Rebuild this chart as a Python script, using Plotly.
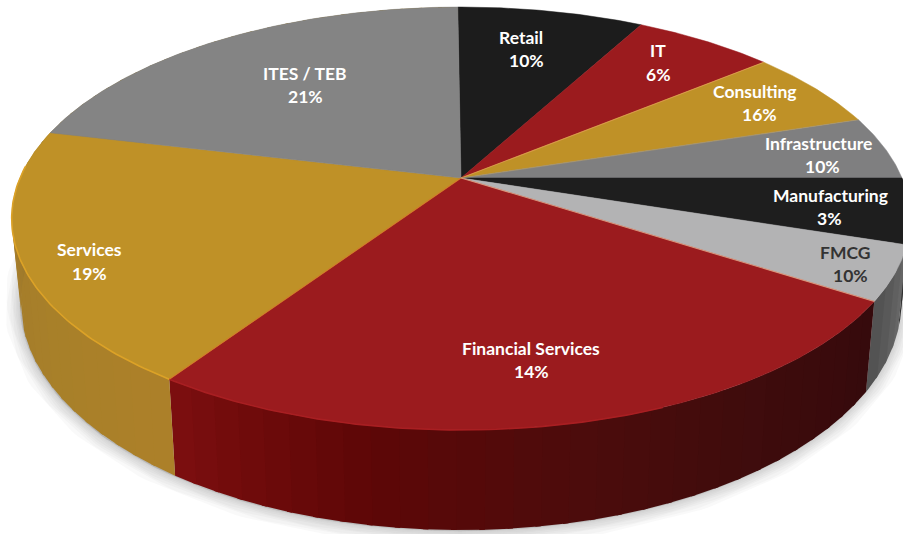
import numpy as np
import plotly.graph_objects as go

# ---- data ----
categories = ["Retail", "IT", "Consulting", "Infrastructure", "Manufacturing",
              "FMCG", "Financial Services", "Services", "ITES / TEB"]
printed_percent = [10, 6, 16, 10, 3, 10, 14, 19, 21]
# the drawn slices do not follow the printed numbers: drawn sweep of each slice, degrees
drawn_sweep = [29.0, 21.9, 22.0, 17.6, 18.0, 14.9, 90.9, 69.6, 76.1]

# ---- style ----
top_colors = ["#1c1c1c", "#9b1b1e", "#bf9127", "#7f7f80", "#1e1e1e",
              "#b3b3b4", "#9b1b1e", "#bf9127", "#848484"]
# side shade stops (start of slice -> end of slice)
side_stops = [None, None, None, None, ["#2a2a2a", "#333333"],
              ["#6a6a6a", "#505050"],
              ["#360a0c", "#3f0c0d", "#4d0c0c", "#5f0707", "#7d0f10"],
              ["#ad8129", "#a8802a", "#a57d2b", "#8f7530"],
              ["#8a7030", "#8a7030"]]
rim_colors = {6: "#a81f22", 7: "#dca227"}
text_colors = ["#ffffff"] * 5 + ["#333333"] + ["#ffffff"] * 3
name_xy = [(521, 37), (658, 50), (755, 91), (818, 143), (830, 195),
           (845, 252), (531, 348), (89, 249), (305, 73)]
pct_xy = [(526, 60), (658, 74), (759, 114), (822, 166), (829, 218),
          (850, 275), (531, 371), (89, 273), (305, 96)]
START_ANGLE = -0.5
CX, CY, B, A, K, H, BOTTOM_X = 461.0, 178.0, 441.0, 203.7, 0.1915, 81.0, 0.98


def top(theta):
    t = np.radians(theta)
    c, d = np.sin(t), -np.cos(t)
    s = 1 / (1 - K * d)
    return CX + B * c * s, CY + A * d * s


def bottom(theta):
    t = np.radians(theta)
    c, d = np.sin(t), -np.cos(t)
    s = 1 / (1 - K * d)
    return CX + BOTTOM_X * B * c * s, CY + A * d * s + H * s


def mix(stops, f):
    rgb = np.array([[int(h[i:i + 2], 16) for i in (1, 3, 5)] for h in stops], float)
    p = np.clip(f, 0, 1) * (len(stops) - 1)
    i = min(int(p), len(stops) - 2)
    v = rgb[i] + (rgb[i + 1] - rgb[i]) * (p - i)
    return "rgb(%d,%d,%d)" % tuple(v)


fig = go.Figure()


def poly(x, y, color, lw=0.0, lc=None, fill=True):
    fig.add_trace(go.Scatter(x=list(x), y=list(y), mode="lines",
                             fill="toself" if fill else "none",
                             fillcolor=color if fill else None,
                             line=dict(color=lc or color, width=lw),
                             hoverinfo="skip", showlegend=False))


edges = START_ANGLE + np.concatenate([[0], np.cumsum(drawn_sweep)])

# soft shadow, pushed down so it only shows below the disc
ring = np.linspace(0, 360, 361)
bx, by = bottom(ring)
for w in (30, 25, 20, 16, 12, 8, 5, 2):
    poly(bx - 1, by + 1, "rgba(90,90,90,0.04)", lw=w, lc="rgba(90,90,90,0.04)")

# cover the upper part of the shadow's spread on the left and right flanks
# side wall, strip by strip: each strip overlaps the previous one
for i, stops in enumerate(side_stops):
    if stops is None:
        continue
    a0, a1 = edges[i], edges[i + 1]
    n = max(2, int((a1 - a0) / 3))
    cuts = np.linspace(a0, a1, n + 1)
    for j in range(n):
        hi = cuts[j + 1] + (0.6 if j < n - 1 else 0)
        th = np.linspace(cuts[j], hi, 6)
        tx, ty = top(th)
        ux, uy = bottom(th[::-1])
        poly(np.r_[tx, ux, tx[0]], np.r_[ty, uy, ty[0]], mix(stops, (j + .5) / n))

# top faces
for i, col in enumerate(top_colors):
    th = np.linspace(edges[i], edges[i + 1], max(8, int(drawn_sweep[i] * 2)))
    ex, ey = top(th)
    poly(np.r_[CX, ex, CX], np.r_[CY, ey, CY], col, lw=0.5)

# thin lit rim on the front edge, light seams between slices
for i, col in rim_colors.items():
    a0 = edges[i] + (35 if i == 6 else 0)
    a1 = edges[i + 1] - (10 if i == 7 else 0)
    ex, ey = top(np.linspace(a0, a1, 80))
    poly(ex, ey, col, lw=1.6, fill=False)
for i, col in {6: "rgba(235,175,140,.75)", 7: "rgba(215,120,40,.8)",
               2: "rgba(235,165,90,.6)", 3: "rgba(215,175,90,.35)"}.items():
    ex, ey = top(np.array([edges[i]]))
    poly([CX, ex[0]], [CY, ey[0]], col, lw=1.1, fill=False)

# labels
ann = []
for i, name in enumerate(categories):
    for txt, (x, y) in ((name, name_xy[i]), ("%d%%" % printed_percent[i], pct_xy[i])):
        ann.append(dict(x=x, y=y, xref="x", yref="y", text="<b>%s</b>" % txt,
                        showarrow=False, xanchor="center", yanchor="middle",
                        font=dict(family="Lato", size=17.5, color=text_colors[i])))

fig.update_layout(width=903, height=534, margin=dict(l=0, r=0, t=0, b=0),
                  paper_bgcolor="white", plot_bgcolor="white", showlegend=False,
                  annotations=ann,
                  xaxis=dict(range=[0, 903], visible=False, fixedrange=True),
                  yaxis=dict(range=[534, 0], visible=False, fixedrange=True))
fig.write_html("out.html", config={"displayModeBar": False},
               post_script="document.body.style.margin='0';")
